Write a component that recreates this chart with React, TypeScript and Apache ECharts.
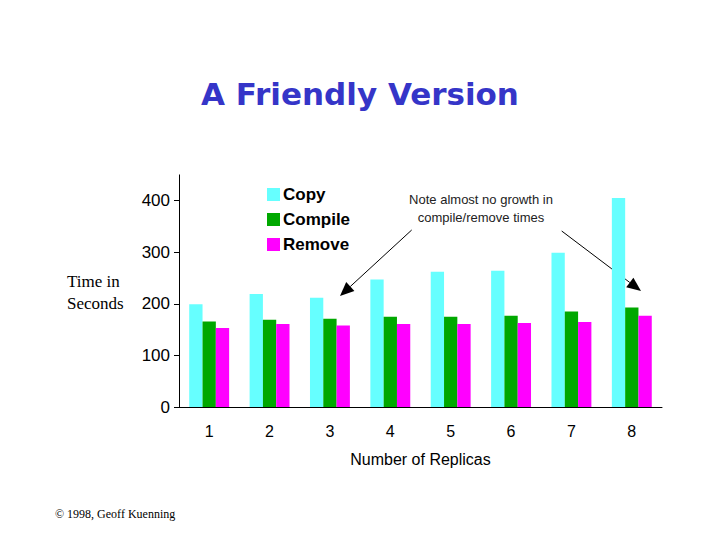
import React, { useEffect, useRef } from "react";
import * as echarts from "echarts";

const categories = ["1", "2", "3", "4", "5", "6", "7", "8"];
const copyTimes = [199, 219, 212, 247, 262, 264, 299, 405];
const compileTimes = [166, 169, 171, 175, 175, 177, 185, 193];
const removeTimes = [153, 161, 158, 161, 161, 163, 165, 177];
const yTicks = [0, 100, 200, 300, 400];

export default function App() {
  const ref = useRef<HTMLDivElement>(null);
  useEffect(() => {
    if (!ref.current) return;
    const chart = echarts.init(ref.current, null, { renderer: "svg" });
    const sans = "Liberation Sans, Arial, sans-serif";
    const serif = "Liberation Serif, Times New Roman, serif";
    chart.setOption({
      animation: false,
      backgroundColor: "#ffffff",
      title: {
        text: "A Friendly Version",
        left: "center",
        top: 73,
        textStyle: {
          fontFamily: "DejaVu Sans, sans-serif",
          fontWeight: "bold",
          fontSize: 31,
          color: "#3535C8",
        },
      },
      legend: {
        orient: "vertical",
        left: 262,
        top: 181,
        itemWidth: 13,
        itemHeight: 13,
        itemGap: 8,
        icon: "rect",
        textStyle: { fontFamily: sans, fontWeight: "bold", fontSize: 17, color: "#000", padding: [0, 0, 0, -2] },
        data: ["Copy", "Compile", "Remove"],
      },
      grid: { left: 179, right: 58, top: 174.9, bottom: 133 },
      xAxis: {
        type: "category",
        data: categories,
        axisLine: { lineStyle: { color: "#000", width: 1 } },
        axisTick: { show: false },
        axisLabel: { fontFamily: sans, fontSize: 16, color: "#000", margin: 16 },
        name: "Number of Replicas",
        nameLocation: "middle",
        nameGap: 44,
        nameTextStyle: { fontFamily: sans, fontSize: 16, color: "#000" },
      },
      yAxis: {
        type: "value",
        min: 0,
        max: 450,
        interval: 50,
        splitLine: { show: false },
        axisLine: { show: true, lineStyle: { color: "#000", width: 1 } },
        axisTick: { show: true, length: 5, customValues: yTicks, lineStyle: { color: "#000" } },
        axisLabel: { fontFamily: sans, fontSize: 17, color: "#000", margin: 9, customValues: yTicks },
      },
      series: [
        { name: "Copy", type: "bar", data: copyTimes, barWidth: 13.3, barGap: "0%", itemStyle: { color: "#66FFFF" } },
        { name: "Compile", type: "bar", data: compileTimes, barWidth: 13.3, barGap: "0%", itemStyle: { color: "#00A800" } },
        { name: "Remove", type: "bar", data: removeTimes, barWidth: 13.3, barGap: "0%", itemStyle: { color: "#FF00FF" } },
      ],
      graphic: [
        {
          type: "text",
          left: 67,
          top: 270,
          style: { text: "Time in\nSeconds", fontFamily: serif, fontSize: 17, lineHeight: 22, fill: "#000" },
        },
        {
          type: "text",
          x: 481,
          y: 208,
          style: {
            text: "Note almost no growth in\ncompile/remove times",
            fontFamily: sans,
            fontSize: 13,
            lineHeight: 18,
            fill: "#222",
            align: "center",
            verticalAlign: "middle",
          },
        },
        { type: "line", shape: { x1: 411.7, y1: 230, x2: 350.3, y2: 286.5 }, style: { stroke: "#000", lineWidth: 1 } },
        { type: "polygon", shape: { points: [[340, 296], [354.4, 290.9], [346.2, 282.1]] }, style: { fill: "#000" } },
        { type: "line", shape: { x1: 561.7, y1: 231, x2: 629.8, y2: 282.5 }, style: { stroke: "#000", lineWidth: 1 } },
        { type: "polygon", shape: { points: [[641, 291], [626.2, 287.3], [633.4, 277.7]] }, style: { fill: "#000" } },
        {
          type: "text",
          left: 55,
          top: 508,
          style: { text: "© 1998, Geoff Kuenning", fontFamily: serif, fontSize: 12, fill: "#000" },
        },
      ],
    });
    return () => chart.dispose();
  }, []);
  return <div ref={ref} style={{ width: 720, height: 540, margin: -8 }} />;
}
